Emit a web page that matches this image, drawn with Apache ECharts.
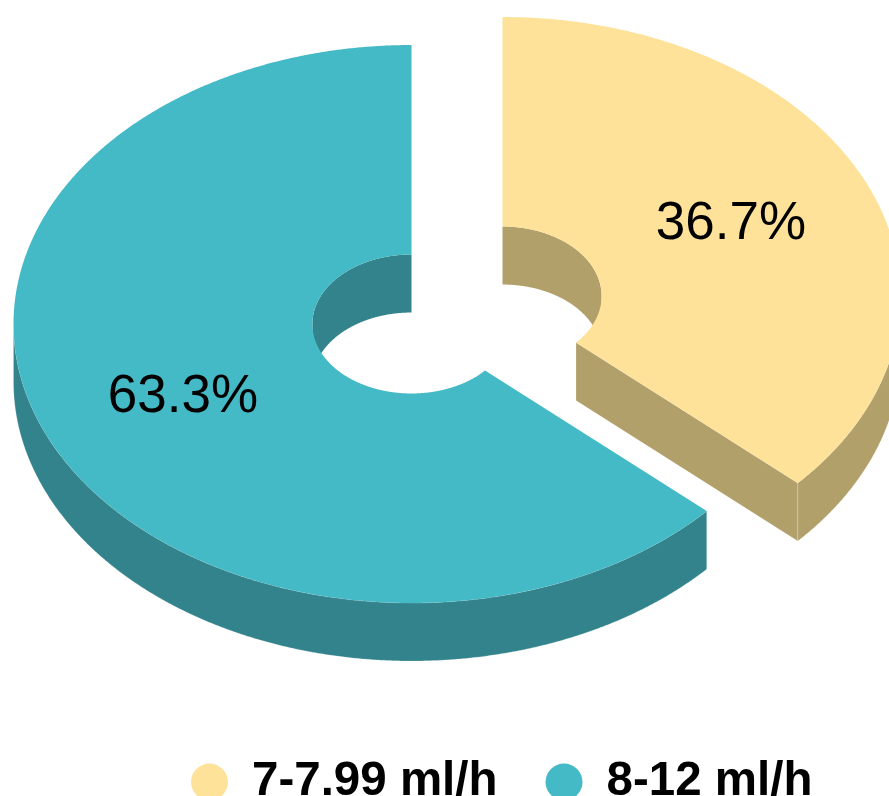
<!DOCTYPE html>
<html>
<head>
<meta charset="utf-8">
<style>html,body{margin:0;padding:0;background:#fff;overflow:hidden}#c{width:889px;height:796px}</style>
<script src="https://cdn.jsdelivr.net/npm/echarts@6/dist/echarts.min.js"></script>
</head>
<body>
<div id="c"></div>
<script>
const categories = ['7-7.99 ml/h', '8-12 ml/h'];
const shares = [36.7, 63.3];
const labels = ['36.7%', '63.3%'];
const topColors = ['#FEE299', '#45BAC7'];
const wallColors = ['#B2A06B', '#33838C'];
const explodeX = [91, 0];
const explodeY = [-28, 0];
const labelNudgeY = [0, 2];

const CX = 411.5, CY = 324, RX = 398, TILT = 0.701, HOLE = 0.249, DEPTH = 58, LABEL_R = 250;
const total = shares.reduce((a, b) => a + b, 0);
const TAU = Math.PI * 2;

function arc(cx, cy, r, a0, a1, dy) {
  const n = Math.max(2, Math.ceil(Math.abs(a1 - a0) / 0.005));
  const pts = [];
  for (let i = 0; i <= n; i++) {
    const a = a0 + (a1 - a0) * i / n;
    pts.push([cx + r * Math.sin(a), cy - r * TILT * Math.cos(a) + dy]);
  }
  return pts;
}
// intersection of an angular range with a visible range (angles in radians, clockwise from top)
function overlap(a0, a1, v0, v1) {
  const s = Math.max(a0, v0), e = Math.min(a1, v1);
  return s < e ? [s, e] : null;
}
function band(cx, cy, r, range) {
  return arc(cx, cy, r, range[0], range[1], 0).concat(arc(cx, cy, r, range[1], range[0], DEPTH));
}

function makeRender(idx) {
  return function (params, api) {
    const value = api.value(0);
    let before = 0;
    for (let i = 0; i < idx; i++) before += shares[i];
    const a0 = before / total * TAU;
    const a1 = a0 + value / total * TAU;
    const cx = CX + explodeX[idx], cy = CY + explodeY[idx];
    const ri = RX * HOLE;
    const edge = { stroke: 'rgba(255,255,255,0.3)', lineWidth: 0.6 };
    const wall = Object.assign({ fill: wallColors[idx] }, edge);
    const children = [];

    // outer wall: the half of the ring that faces the viewer
    const outer = overlap(a0, a1, Math.PI / 2, Math.PI * 1.5);
    if (outer) children.push({ type: 'polygon', shape: { points: band(cx, cy, RX, outer) }, style: wall });

    // inner wall: the back half of the hole
    [[0, Math.PI / 2], [Math.PI * 1.5, TAU]].forEach(v => {
      const r = overlap(a0, a1, v[0], v[1]);
      if (r) children.push({ type: 'polygon', shape: { points: band(cx, cy, ri, r) }, style: { fill: wallColors[idx] } });
    });

    // cut face at the closing edge, when it faces the viewer
    if (Math.sin(a1) > 0 && a1 < Math.PI) {
      const p = arc(cx, cy, ri, a1, a1, 0)[0], q = arc(cx, cy, RX, a1, a1, 0)[0];
      children.push({
        type: 'polygon',
        shape: { points: [p, q, [q[0], q[1] + DEPTH], [p[0], p[1] + DEPTH]] },
        style: wall
      });
    }

    // top face
    children.push({
      type: 'polygon',
      shape: { points: arc(cx, cy, RX, a0, a1, 0).concat(arc(cx, cy, ri, a1, a0, 0)) },
      style: { fill: topColors[idx] }
    });

    // value label
    const mid = (a0 + a1) / 2;
    children.push({
      type: 'text',
      style: {
        text: labels[idx],
        x: cx + LABEL_R * Math.sin(mid),
        y: cy - LABEL_R * TILT * Math.cos(mid) + labelNudgeY[idx],
        align: 'center',
        verticalAlign: 'middle',
        fontFamily: '"Liberation Sans", Arial, sans-serif',
        fontSize: 53,
        fill: '#000'
      }
    });
    return { type: 'group', children };
  };
}

const chart = echarts.init(document.getElementById('c'), null, { renderer: 'canvas' });
chart.setOption({
  animation: false,
  backgroundColor: '#fff',
  legend: {
    data: categories.map(name => ({ name, icon: 'circle' })),
    orient: 'horizontal',
    left: 191,
    top: 758,
    padding: 0,
    itemWidth: 37,
    itemHeight: 37,
    itemGap: 48,
    selectedMode: false,
    textStyle: {
      fontFamily: '"Liberation Sans", Arial, sans-serif',
      fontWeight: 'bold',
      fontSize: 47.5,
      color: '#000',
      padding: [0, 0, 0, 19]
    }
  },
  series: categories.map((name, i) => ({
    type: 'custom',
    name,
    coordinateSystem: 'none',
    silent: true,
    clip: false,
    itemStyle: { color: topColors[i] },
    data: [[shares[i]]],
    renderItem: makeRender(i)
  }))
});
</script>
</body>
</html>
